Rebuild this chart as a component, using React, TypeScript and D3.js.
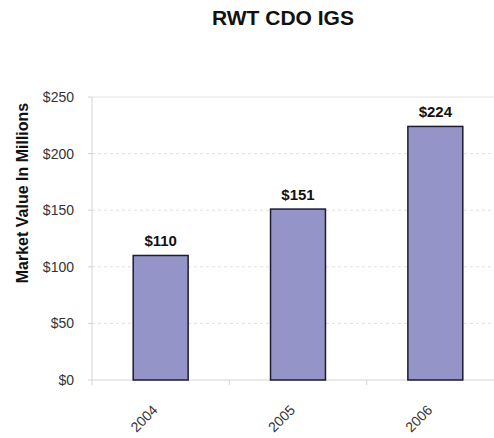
import * as d3 from "d3";

const title = "RWT CDO IGS";
const yTitle = "Market Value In Millions";
const years = ["2004", "2005", "2006"];
const values = [110, 151, 224];
const yTicks = [0, 50, 100, 150, 200, 250];

export default function App() {
  const width = 494;
  const height = 438;
  const marginLeft = 92;
  const plotRight = 504;
  const marginTop = 97;
  const plotBottom = 380;
  const font = "Arial, 'Liberation Sans', sans-serif";

  const x = d3.scaleBand()
    .domain(years)
    .range([marginLeft, plotRight])
    .paddingInner(0.6)
    .paddingOuter(0.3);

  const step = x.step();

  const y = d3.scaleLinear()
    .domain([0, 250])
    .range([plotBottom, marginTop]);

  const fmt = (v: number) => `$${v}`;

  return (
    <svg width={width} height={height} style={{ position: "absolute", left: 0, top: 0, background: "#fff" }}>
      <text x={283} y={25} textAnchor="middle" fontFamily={font} fontWeight="bold" fontSize={21} fill="#111">{title}</text>

      {/* gridlines */}
      {yTicks.filter(t => t > 0 && t < 250).map(t => (
        <line key={t} x1={marginLeft} x2={plotRight} y1={y(t)} y2={y(t)} stroke="#e0e0e0" strokeDasharray="3,3" />
      ))}
      <line x1={marginLeft} x2={plotRight} y1={y(250)} y2={y(250)} stroke="#e4e4e4" />

      {/* y axis */}
      <line x1={marginLeft} x2={marginLeft} y1={marginTop} y2={plotBottom} stroke="#d4d4d4" />
      {yTicks.map(t => (
        <g key={t}>
          <line x1={marginLeft - 4} x2={marginLeft} y1={y(t)} y2={y(t)} stroke="#d4d4d4" />
          <text x={marginLeft - 18} y={y(t)} dy="0.35em" textAnchor="end" fontFamily={font} fontSize={14} fill="#333">{fmt(t)}</text>
        </g>
      ))}
      <text transform="translate(22,193) rotate(-90)" textAnchor="middle" dy="0.35em"
        fontFamily={font} fontWeight="bold" fontSize={16} fill="#111">{yTitle}</text>

      {/* x axis */}
      <line x1={marginLeft} x2={plotRight} y1={plotBottom} y2={plotBottom} stroke="#d4d4d4" />
      {years.map((_, i) => (
        <line key={i} x1={marginLeft + step * i} x2={marginLeft + step * i} y1={plotBottom} y2={plotBottom + 5} stroke="#d4d4d4" />
      ))}
      {years.map(yr => {
        const cx = (x(yr) ?? 0) + x.bandwidth() / 2;
        return (
          <text key={yr} transform={`translate(${cx - 9},${plotBottom + 24}) rotate(-45)`} textAnchor="end" dy="0.7em"
            fontFamily={font} fontSize={14} fill="#333">{yr}</text>
        );
      })}

      {/* bars */}
      {years.map((yr, i) => (
        <g key={yr}>
          <rect x={x(yr)} y={y(values[i])} width={x.bandwidth()} height={plotBottom - y(values[i])}
            fill="#9494c8" stroke="#1c1c30" strokeWidth={1.5} />
          <text x={(x(yr) ?? 0) + x.bandwidth() / 2} y={y(values[i]) - 9} textAnchor="middle"
            fontFamily={font} fontWeight="bold" fontSize={15} fill="#111">{fmt(values[i])}</text>
        </g>
      ))}
    </svg>
  );
}
